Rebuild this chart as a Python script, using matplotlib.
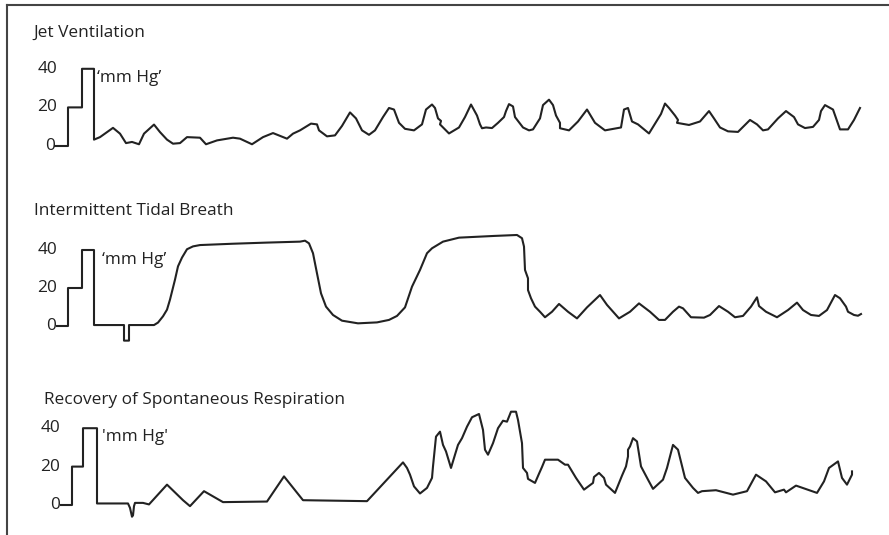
import matplotlib
matplotlib.use('Agg')
import matplotlib.pyplot as plt
from matplotlib.lines import Line2D

# ---- data (time in arbitrary units, pressure in mm Hg) ----
titles = ['Jet Ventilation', 'Intermittent Tidal Breath', 'Recovery of Spontaneous Respiration']
unit_labels = ['\u2018mm Hg\u2019', '\u2018mm Hg\u2019', "'mm Hg'"]
cal_ticks = [0, 20, 40]
cal_p = [0, 0, 20, 20, 40, 40]
cal_t = [
    [55, 68, 68, 82, 82, 94],
    [57, 68, 68, 82, 82, 94],
    [61, 72, 72, 83, 83, 97],
]

jet_t = [94, 100, 113, 120, 126, 132, 139, 144, 154, 160, 167, 173, 180, 187, 200, 206,
         217, 233, 240, 252, 263, 273, 287, 293, 300, 311, 317, 319, 327, 335, 342, 350,
         356, 362, 369, 375, 383, 389, 394, 399, 405, 414, 422, 426, 432, 435, 438, 441,
         440, 449, 459, 465, 471, 477, 480, 482, 486, 492, 498, 504, 506, 509, 513, 515,
         523, 529, 533, 540, 543, 549, 553, 556, 560, 560, 569, 578, 587, 595, 605, 621,
         624, 628, 632, 638, 649, 661, 665, 669, 675, 678, 677, 689, 700, 709, 714, 720,
         728, 738, 750, 757, 763, 768, 778, 786, 794, 798, 805, 813, 819, 821, 825, 833,
         840, 848, 854, 860]
jet_p = [3.3, 4.6, 9.4, 6.4, 1.5, 2.1, 0.9, 6.4, 11.1, 7.2, 3.3, 1.2, 1.5, 4.6, 4.3, 0.9,
         2.9, 4.3, 3.8, 0.9, 4.6, 6.7, 3.8, 6.4, 8.1, 11.6, 11.2, 8.1, 5.0, 5.5, 10.4, 17.4,
         14.3, 8.1, 5.8, 8.1, 15.0, 19.7, 18.9, 12.0, 8.9, 8.1, 11.2, 18.9, 21.5, 19.7, 14.3, 13.0,
         11.2, 6.5, 9.6, 15.0, 21.5, 15.8, 11.2, 9.2, 9.6, 9.3, 12.0, 15.0, 18.1, 21.7, 20.5, 15.0,
         9.6, 8.1, 8.6, 14.3, 21.2, 24.0, 21.2, 15.8, 12.0, 9.2, 8.1, 12.7, 18.9, 12.0, 8.1, 9.6,
         18.9, 19.7, 12.7, 11.2, 6.5, 16.6, 22.0, 19.7, 15.8, 13.5, 12.0, 10.9, 12.7, 18.1, 14.3, 9.6,
         7.6, 7.3, 13.5, 11.2, 8.1, 8.6, 14.3, 18.1, 15.0, 11.2, 9.3, 9.9, 13.5, 18.1, 21.2, 18.9,
         8.6, 8.6, 13.5, 19.7]

tidal_t = [94, 124, 124, 129, 129, 154, 158, 163, 167, 170, 175, 178, 182, 187, 193, 200,
           233, 267, 300, 305, 309, 313, 317, 321, 326, 333, 342, 358, 377, 389, 397, 405,
           412, 420, 427, 432, 443, 459, 494, 517, 522, 524, 525, 528, 528, 531, 535, 540,
           545, 552, 559, 568, 577, 587, 600, 607, 619, 630, 639, 650, 659, 665, 673, 679,
           683, 691, 704, 710, 719, 728, 735, 743, 751, 757, 759, 766, 777, 788, 797, 803,
           811, 819, 827, 835, 840, 846, 848, 854, 858, 861]
tidal_p = [0.5, 0.5, -7.7, -7.7, 0.5, 0.5, 1.8, 5.1, 8.6, 13.9, 24.4, 31.4, 36.0, 40.4, 41.9, 42.6,
           43.3, 43.9, 44.4, 44.9, 43.5, 38.3, 27.7, 17.2, 10.2, 5.8, 2.8, 1.4, 1.9, 3.2, 5.3, 9.8,
           20.7, 29.5, 38.3, 40.9, 44.4, 46.5, 47.4, 47.9, 46.2, 41.8, 29.5, 25.1, 18.9, 14.6, 10.2, 7.5,
           4.6, 7.5, 11.6, 7.5, 4.0, 9.8, 16.3, 11.1, 4.0, 7.5, 11.9, 7.5, 3.2, 3.2, 7.5, 10.2,
           9.3, 4.6, 4.4, 5.8, 10.5, 7.5, 4.6, 5.3, 10.2, 15.1, 10.5, 7.5, 4.6, 8.4, 12.3, 8.4,
           5.8, 5.3, 8.4, 16.3, 14.6, 10.2, 7.5, 5.8, 5.4, 6.3]

recov_t = [97, 128, 130, 132, 133, 134, 135, 143, 149, 167, 183, 190, 204, 223, 267, 284,
           303, 367, 403, 407, 410, 414, 420, 427, 432, 433, 436, 440, 443, 446, 451, 455,
           458, 462, 467, 472, 479, 483, 485, 488, 493, 498, 503, 507, 511, 516, 518, 522,
           523, 527, 528, 535, 539, 542, 545, 558, 565, 568, 576, 584, 593, 594, 599, 604,
           606, 615, 622, 626, 628, 628, 630, 633, 637, 641, 648, 653, 663, 667, 673, 678,
           685, 693, 698, 702, 716, 733, 747, 756, 766, 775, 784, 786, 796, 817, 824, 829,
           838, 842, 847, 852, 852]
recov_p = [0.8, 0.8, -1.5, -6.1, -5.4, -0.6, 1.1, 1.1, 0.3, 10.6, 2.5, -0.6, 7.2, 1.5, 1.8, 14.9,
           2.5, 2.0, 22.2, 19.3, 15.8, 9.7, 6.0, 8.9, 14.1, 20.1, 35.6, 38.2, 31.3, 27.9, 19.3, 26.2,
           31.3, 34.8, 40.8, 45.7, 47.4, 39.1, 28.8, 26.2, 32.2, 40.0, 43.9, 43.4, 48.6, 48.6, 44.3, 32.2,
           19.3, 16.7, 13.6, 11.5, 16.3, 19.8, 23.6, 23.6, 21.0, 21.0, 14.1, 8.0, 11.5, 14.6, 16.7, 14.1,
           10.6, 6.3, 15.3, 20.1, 25.3, 28.8, 30.5, 34.8, 33.1, 20.1, 13.2, 8.4, 13.2, 19.3, 31.3, 28.8,
           14.1, 8.9, 6.3, 7.2, 7.7, 5.4, 7.2, 15.8, 12.3, 6.6, 8.0, 6.6, 10.1, 6.3, 12.3, 19.3,
           22.7, 14.1, 10.6, 15.8, 17.5]

traces = [(jet_t, jet_p), (tidal_t, tidal_p), (recov_t, recov_p)]

# ---- layout (pixels) ----
W, H = 889, 535
# top, bottom, zero line, px per mmHg, title x/y, tick label right x, zero label right x, unit x/y
panels = [
    dict(top=15, bot=175, base=146, s=1.93, tx=33, ty=33, lx=57, zx=55, ux=97, uy=78),
    dict(top=195, bot=355, base=326, s=1.90, tx=34, ty=211, lx=57, zx=56, ux=102, uy=260),
    dict(top=380, bot=535, base=505, s=1.92, tx=44, ty=400, lx=60, zx=60, ux=102, uy=437),
]

plt.rcParams['font.family'] = ['Open Sans', 'DejaVu Sans']
ink = '#222222'
fs = 12.4
fig = plt.figure(figsize=(W / 100, H / 100), dpi=100)

for i, L in enumerate(panels):
    ax = fig.add_axes([0, 1 - L['bot'] / H, 1, (L['bot'] - L['top']) / H])
    ax.set_xlim(0, W)
    ax.set_ylim((L['base'] - L['bot']) / L['s'], (L['base'] - L['top']) / L['s'])
    ax.axis('off')
    t, p = traces[i]
    ax.plot(cal_t[i] + t, cal_p + p, color=ink, lw=1.5, solid_joinstyle='round')
    mm = lambda ypx: (L['base'] - ypx) / L['s']
    ax.text(L['tx'], mm(L['ty']), titles[i], fontsize=fs, color=ink, ha='left', va='center')
    for v in cal_ticks:
        xr = L['zx'] if v == 0 else L['lx']
        ax.text(xr, v, str(v), fontsize=fs, color=ink, ha='right', va='center')
    ax.text(L['ux'], mm(L['uy']), unit_labels[i], fontsize=fs, color=ink, ha='left', va='center')

# frame (top and left edges)
fig.add_artist(Line2D([7 / W, 1], [1 - 5 / H, 1 - 5 / H], transform=fig.transFigure, color='#444444', lw=1.5))
fig.add_artist(Line2D([7 / W, 7 / W], [0, 1 - 5 / H], transform=fig.transFigure, color='#444444', lw=1.5))

fig.savefig('out.png', dpi=100, facecolor='white')
